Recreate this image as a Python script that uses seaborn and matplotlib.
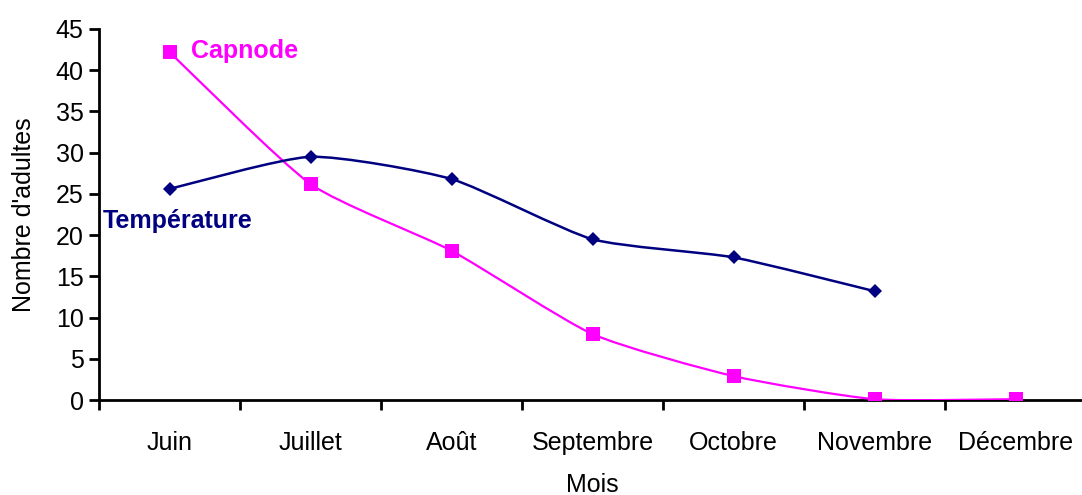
import matplotlib
matplotlib.use("Agg")
import matplotlib.pyplot as plt
import seaborn as sns
import pandas as pd
import numpy as np
from matplotlib.path import Path
from matplotlib.patches import PathPatch
from matplotlib.ticker import MultipleLocator, FixedLocator

months = ["Juin", "Juillet", "Août", "Septembre", "Octobre", "Novembre", "Décembre"]
capnode = [42.2, 26.2, 18.1, 8.0, 2.9, 0.1, 0.1]
temperature = [25.6, 29.5, 26.8, 19.5, 17.3, 13.2]

PINK = "#FF00FF"
NAVY = "#000080"
FS = 18

sns.set_theme(style="white")
plt.rcParams["font.family"] = ["Liberation Sans", "DejaVu Sans"]

fig = plt.figure(figsize=(10.82, 4.95), dpi=100)
ax = fig.add_axes([99 / 1082, 95 / 495, 987 / 1082, 371 / 495])

pos = list(range(len(months)))
df_c = pd.DataFrame({"x": pos, "y": capnode})
df_t = pd.DataFrame({"x": pos[:len(temperature)], "y": temperature})


def smooth_path(xs, ys, tension=10.0):
    """Gently smoothed cubic Bezier path through the points."""
    p = np.column_stack([xs, ys]).astype(float)
    n = len(p)
    verts = [tuple(p[0])]
    codes = [Path.MOVETO]
    for i in range(n - 1):
        p0 = p[max(i - 1, 0)]
        p1 = p[i]
        p2 = p[i + 1]
        p3 = p[min(i + 2, n - 1)]
        c1 = p1 + (p2 - p0) / tension
        c2 = p2 - (p3 - p1) / tension
        verts += [tuple(c1), tuple(c2), tuple(p2)]
        codes += [Path.CURVE4] * 3
    return Path(verts, codes)


ax.add_patch(PathPatch(smooth_path(df_c["x"], df_c["y"]), fill=False,
                       edgecolor=PINK, lw=1.6, zorder=2))
ax.add_patch(PathPatch(smooth_path(df_t["x"], df_t["y"]), fill=False,
                       edgecolor=NAVY, lw=1.8, zorder=2))

sns.lineplot(data=df_c, x="x", y="y", ax=ax, color=PINK, linestyle="",
             marker="s", markersize=9.5, markeredgewidth=0, markerfacecolor=PINK, zorder=3)
sns.lineplot(data=df_t, x="x", y="y", ax=ax, color=NAVY, linestyle="",
             marker="D", markersize=7.5, markeredgewidth=0, markerfacecolor=NAVY, zorder=3)

ax.set_xlim(-0.5, 6.5)
ax.set_ylim(0, 45)
ax.yaxis.set_major_locator(MultipleLocator(5))
ax.xaxis.set_major_locator(FixedLocator(pos))
ax.set_xticklabels(months)
ax.xaxis.set_minor_locator(FixedLocator([p - 0.5 for p in pos] + [6.5]))

for s in ["top", "right"]:
    ax.spines[s].set_visible(False)
for s in ["left", "bottom"]:
    ax.spines[s].set_color("black")
    ax.spines[s].set_linewidth(2)
    ax.spines[s].set_zorder(1)

ax.tick_params(axis="y", which="major", direction="out", length=7, width=2,
               color="black", labelsize=FS, labelcolor="black", pad=4, left=True)
ax.tick_params(axis="x", which="major", length=0, labelsize=FS,
               labelcolor="black", pad=22)
ax.tick_params(axis="x", which="minor", direction="out", length=7, width=2,
               color="black", bottom=True)
ax.grid(False)

ax.set_xlabel("Mois", fontsize=FS, color="black")
ax.set_ylabel("Nombre d'adultes", fontsize=FS, color="black")
ax.xaxis.set_label_coords(0.5, -0.197)
ax.yaxis.set_label_coords(-0.064, 0.5)

ax.text(0.15, 42.3, "Capnode", color=PINK, fontsize=FS, fontweight="bold",
        va="center", ha="left")
ax.text(-0.47, 21.7, "Température", color=NAVY, fontsize=FS, fontweight="bold",
        va="center", ha="left")

fig.savefig("out.png", dpi=100)
